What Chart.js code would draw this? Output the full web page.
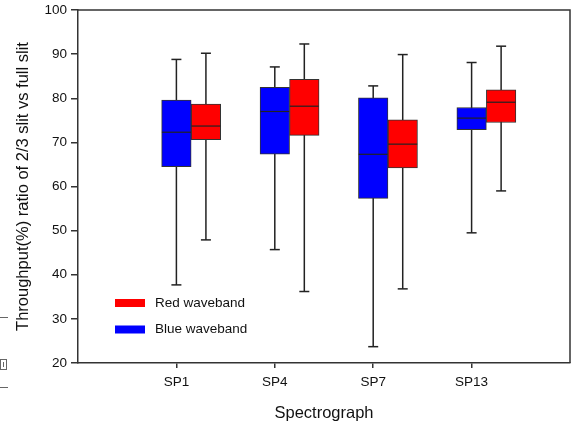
<!DOCTYPE html>
<html><head><meta charset="utf-8">
<script src="https://cdn.jsdelivr.net/npm/chart.js@4.4.1/dist/chart.umd.min.js"></script>
<style>html,body{margin:0;padding:0;background:#fff}#wrap{width:575px;height:428px;position:relative}</style>
</head><body><div id="wrap"><canvas id="c" width="575" height="428"></canvas></div>
<script>
const categories = ['SP1', 'SP4', 'SP7', 'SP13'];
const blueMin    = [37.7, 45.7, 23.7, 49.5];
const blueQ1     = [64.5, 67.3, 57.3, 72.9];
const blueMedian = [72.3, 77.0, 67.3, 75.5];
const blueQ3     = [79.6, 82.5, 80.1, 77.9];
const blueMax    = [88.8, 87.1, 82.8, 88.1];
const redMin     = [47.9, 36.2, 36.8, 59.0];
const redQ1      = [70.6, 71.6, 64.2, 74.5];
const redMedian  = [73.7, 78.2, 69.6, 79.1];
const redQ3      = [78.7, 84.3, 75.1, 81.9];
const redMax     = [90.2, 92.3, 89.9, 91.8];
const yTicks     = [20, 30, 40, 50, 60, 70, 80, 90, 100];
const seriesLabels = ['Red waveband', 'Blue waveband'];

const FONT = 'Liberation Sans';
const INK = '#222';

function series(label, color, offset, mins, q1, med, q3, maxs) {
  const xs = categories.map((_, i) => i + 1 + offset);
  const whisk = [];
  xs.forEach((x, i) => { whisk.push({x, y: mins[i]}, {x, y: maxs[i]}, {x, y: null}); });
  return [
    {type: 'scatter', label: label + ' whiskers', data: whisk, showLine: true, spanGaps: false,
     borderColor: INK, borderWidth: 1.5, pointRadius: 0, pointHoverRadius: 0, order: 3},
    {type: 'bar', label: label, data: xs.map((x, i) => ({x, y: [q1[i], q3[i]]})),
     backgroundColor: color, borderColor: '#333', borderWidth: 1, borderSkipped: false,
     barThickness: 29.5, grouped: false, order: 2},
    {type: 'scatter', label: label + ' median', data: xs.map((x, i) => ({x, y: med[i]})),
     pointStyle: 'line', pointRadius: 14.5, pointHoverRadius: 14.5, borderColor: INK, borderWidth: 1.2, order: 1},
    {type: 'scatter', label: label + ' caps', data: xs.flatMap((x, i) => [{x, y: mins[i]}, {x, y: maxs[i]}]),
     pointStyle: 'line', pointRadius: 5, pointHoverRadius: 5, borderColor: INK, borderWidth: 1.5, order: 1}
  ];
}

const datasets = [
  ...series(seriesLabels[1], '#0000FF', 0, blueMin, blueQ1, blueMedian, blueQ3, blueMax),
  ...series(seriesLabels[0], '#FF0000', 0.3, redMin, redQ1, redMedian, redQ3, redMax)
];

const framePlugin = {
  id: 'frame',
  afterDatasetsDraw(chart) {
    const {ctx, chartArea: a} = chart;
    ctx.save();
    ctx.strokeStyle = '#333';
    ctx.lineWidth = 1.5;
    ctx.beginPath();
    ctx.moveTo(a.left, a.top); ctx.lineTo(a.right, a.top); ctx.lineTo(a.right, a.bottom);
    ctx.stroke();
    ctx.restore();
  }
};

const legendPlugin = {
  id: 'insideLegend',
  afterDraw(chart) {
    const {ctx} = chart;
    const items = [{label: seriesLabels[0], color: '#FF0000'}, {label: seriesLabels[1], color: '#0000FF'}];
    ctx.save();
    ctx.font = '13.5px "' + FONT + '"';
    ctx.textBaseline = 'middle';
    items.forEach((it, i) => {
      const cy = 303 + i * 26.5;
      ctx.fillStyle = it.color;
      ctx.fillRect(115, cy - 4, 30, 8);
      ctx.fillStyle = '#111';
      ctx.fillText(it.label, 155, cy);
    });
    // small marks at the left margin of the original figure
    ctx.strokeStyle = '#666';
    ctx.lineWidth = 1;
    ctx.beginPath();
    ctx.moveTo(0, 317.5); ctx.lineTo(8, 317.5);
    ctx.moveTo(0, 387.5); ctx.lineTo(8, 387.5);
    ctx.stroke();
    ctx.strokeRect(0.5, 359.5, 6, 10);
    ctx.beginPath(); ctx.moveTo(3.5, 362); ctx.lineTo(3.5, 367); ctx.stroke();
    ctx.restore();
  }
};

new Chart(document.getElementById('c'), {
  type: 'bar',
  data: {datasets},
  options: {
    responsive: false,
    animation: false,
    events: [],
    layout: {autoPadding: false, padding: {top: 10, right: 5, left: 0, bottom: 0}},
    plugins: {legend: {display: false}, tooltip: {enabled: false}},
    scales: {
      x: {
        type: 'linear', min: 0, max: 5, offset: false,
        afterBuildTicks: s => { s.ticks = categories.map((_, i) => ({value: i + 1})); },
        afterFit: s => { s.height = 65; s.paddingLeft = 0; s.paddingRight = 0; },
        ticks: {callback: v => categories[v - 1] ?? '', font: {family: FONT, size: 13.5}, color: '#111',
                padding: 6, maxRotation: 0, autoSkip: false},
        grid: {drawOnChartArea: false, drawTicks: true, tickLength: 5, color: '#333', lineWidth: 1.5, offset: false},
        border: {display: true, color: '#333', width: 1.5},
        title: {display: true, text: 'Spectrograph', font: {family: FONT, size: 16.5}, color: '#111',
                padding: {top: 0, bottom: 5}}
      },
      y: {
        type: 'linear', min: 20, max: 100,
        afterBuildTicks: s => { s.ticks = yTicks.map(v => ({value: v})); },
        afterFit: s => { s.width = 78; s.paddingTop = 0; s.paddingBottom = 0; },
        ticks: {font: {family: FONT, size: 13.5}, color: '#111', padding: 4},
        grid: {drawOnChartArea: false, drawTicks: true, tickLength: 7, color: '#333', lineWidth: 1.5},
        border: {display: true, color: '#333', width: 1.5},
        title: {display: true, text: 'Throughput(%) ratio of 2/3 slit vs full slit',
                font: {family: FONT, size: 16.5}, color: '#111', padding: {top: 14, bottom: 0}}
      }
    }
  },
  plugins: [framePlugin, legendPlugin]
});
</script>
</body></html>
